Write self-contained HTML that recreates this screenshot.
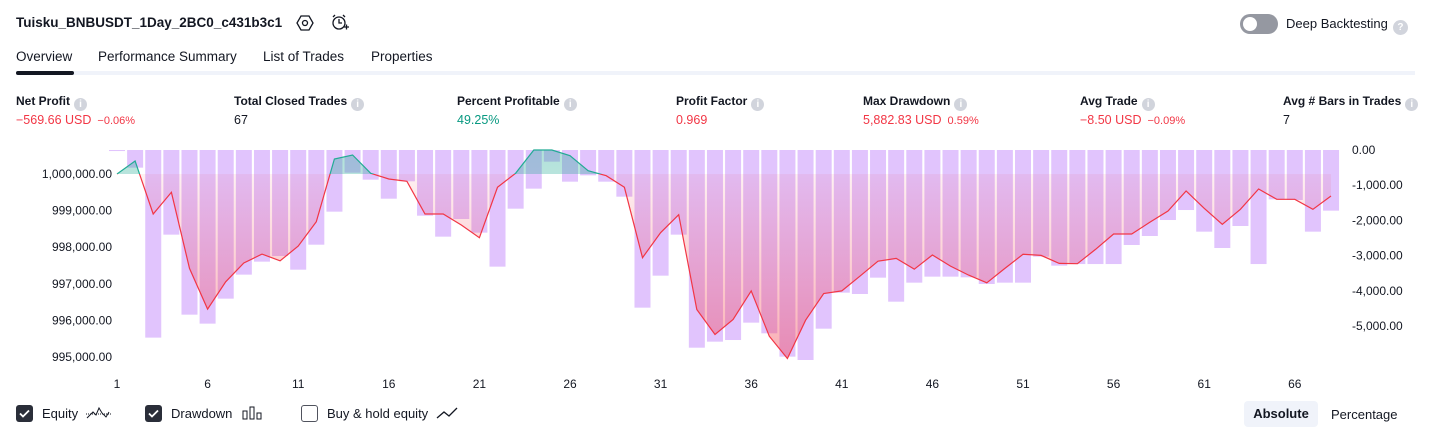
<!DOCTYPE html>
<html><head><meta charset="utf-8">
<style>
body{margin:0;width:1431px;height:438px;background:#fff;font-family:"Liberation Sans","DejaVu Sans",sans-serif;color:#131722;position:relative;overflow:hidden}
.abs{position:absolute;white-space:nowrap}
.title{left:16px;top:15px;font-size:13.5px;font-weight:bold}
.tab{top:49px;font-size:13.5px}
.lbl{top:94px;font-size:12px;font-weight:bold;color:#131722}
.val{top:113px;font-size:12.5px}
.info{display:inline-block;width:13px;height:13px;border-radius:50%;background:#d1d4dc;color:#fff;font-size:10px;text-align:center;line-height:13px;vertical-align:-2px;margin-left:4px;font-weight:bold}
.red{color:#f23645}.grn{color:#089981}.sm{font-size:11px;margin-left:6px}
.cb{display:inline-block;width:17px;height:17px;border-radius:3px;vertical-align:-4px;margin-right:9px;box-sizing:border-box}
.leg{top:405px;font-size:13px}
</style></head><body>
<div class="abs title">Tuisku_BNBUSDT_1Day_2BC0_c431b3c1</div>
<svg class="abs" style="left:296px;top:14px" width="18" height="18"><polygon points="5,2 13,2 17,9 13,16 5,16 1,9" fill="none" stroke="#131722" stroke-width="1.3"/><circle cx="9" cy="9" r="2.5" fill="none" stroke="#131722" stroke-width="1.3"/></svg>
<svg class="abs" style="left:330px;top:13px" width="20" height="20"><circle cx="9" cy="10" r="6" fill="none" stroke="#131722" stroke-width="1.3"/><path d="M9 6v4h3M3 4l2-2M15 4l-2-2M14 14h5M16.5 11.5v5" fill="none" stroke="#131722" stroke-width="1.3"/></svg>
<div class="abs" style="left:1240px;top:14px;width:38px;height:20px;border-radius:10px;background:#9598a1"><div style="position:absolute;left:3px;top:3px;width:14px;height:14px;border-radius:50%;background:#fff"></div></div>
<div class="abs" style="left:1286px;top:16px;font-size:13px">Deep Backtesting<span class="info" style="margin-left:5px;width:15px;height:15px;line-height:15px">?</span></div>

<div class="abs tab" style="left:16px">Overview</div>
<div class="abs tab" style="left:98px">Performance Summary</div>
<div class="abs tab" style="left:263px">List of Trades</div>
<div class="abs tab" style="left:371px">Properties</div>
<div class="abs" style="left:16px;top:71px;width:1399px;height:4px;background:#f0f3fa"></div>
<div class="abs" style="left:16px;top:71px;width:58px;height:4px;border-radius:2px;background:#131722"></div>

<div class="abs lbl" style="left:16px">Net Profit<span class="info">i</span></div>
<div class="abs val red" style="left:16px">−569.66 USD<span class="sm">−0.06%</span></div>
<div class="abs lbl" style="left:234px">Total Closed Trades<span class="info">i</span></div>
<div class="abs val" style="left:234px">67</div>
<div class="abs lbl" style="left:457px">Percent Profitable<span class="info">i</span></div>
<div class="abs val grn" style="left:457px">49.25%</div>
<div class="abs lbl" style="left:676px">Profit Factor<span class="info">i</span></div>
<div class="abs val red" style="left:676px">0.969</div>
<div class="abs lbl" style="left:863px">Max Drawdown<span class="info">i</span></div>
<div class="abs val red" style="left:863px">5,882.83 USD<span class="sm">0.59%</span></div>
<div class="abs lbl" style="left:1080px">Avg Trade<span class="info">i</span></div>
<div class="abs val red" style="left:1080px">−8.50 USD<span class="sm">−0.09%</span></div>
<div class="abs lbl" style="left:1283px">Avg # Bars in Trades<span class="info">i</span></div>
<div class="abs val" style="left:1283px">7</div>

<svg id="chart" class="abs" style="left:0;top:0" width="1431" height="400"></svg>

<div class="abs leg" style="left:16px"><span class="cb" style="background:#2a2e39"><svg width="17" height="17"><path d="M4 8.5l3 3 6-6" stroke="#fff" stroke-width="1.8" fill="none"/></svg></span>Equity <svg width="26" height="16" style="vertical-align:-3px;margin-left:4px"><path d="M1 13l6-6 3 3 3-7 3 5 4 4 3-5" stroke="#131722" fill="none"/><line x1="0" y1="9" x2="26" y2="9" stroke="#131722" stroke-dasharray="1,1"/></svg></div>
<div class="abs leg" style="left:145px"><span class="cb" style="background:#2a2e39"><svg width="17" height="17"><path d="M4 8.5l3 3 6-6" stroke="#fff" stroke-width="1.8" fill="none"/></svg></span>Drawdown <svg width="20" height="16" style="vertical-align:-3px;margin-left:6px"><rect x="1" y="6" width="4" height="8" fill="none" stroke="#131722"/><rect x="8" y="2" width="4" height="12" fill="none" stroke="#131722"/><rect x="15" y="8" width="4" height="6" fill="none" stroke="#131722"/></svg></div>
<div class="abs leg" style="left:301px"><span class="cb" style="border:1.3px solid #50535e"></span>Buy &amp; hold equity <svg width="22" height="16" style="vertical-align:-3px;margin-left:4px"><path d="M1 13l7-6 5 4 8-8" stroke="#131722" fill="none" stroke-width="1.3"/></svg></div>
<div class="abs" style="left:1244px;top:401px;width:74px;height:26px;border-radius:4px;background:#f0f3fa;font-size:13px;font-weight:bold;text-align:center;line-height:26px">Absolute</div>
<div class="abs" style="left:1331px;top:407px;font-size:13px">Percentage</div>

<script>
const tradeNums=[];for(let i=1;i<=68;i++)tradeNums.push(i);
const xTickLabels=[1,6,11,16,21,26,31,36,41,46,51,56,61,66];
const equity=[1000000,1000355,998907,999500,997423,996310,997057,997570,997814,997630,998030,998697,1000410,1000519,1000019,999863,999800,998907,998907,998607,998260,999636,1000019,1000656,1000656,1000500,1000090,999954,999636,997713,998396,998888,996300,995617,996027,996809,995571,994962,996008,996738,996809,997210,997620,997694,997400,997787,997486,997240,997030,997423,997806,997778,997560,997550,997940,998361,998361,998680,998990,999535,999063,998626,999036,999590,999308,999308,999035,999400];
const drawdown=[-30,-502,-5330,-2405,-4678,-4933,-4223,-3541,-3172,-3011,-3400,-2690,-1752,-644,-843,-1383,-890,-1866,-2462,-1960,-2348,-3314,-1667,-1098,-331,-900,-720,-900,-1326,-4479,-3570,-2405,-5616,-5445,-5398,-4905,-5208,-5871,-5966,-5076,-4053,-4091,-3627,-4309,-3769,-3598,-3598,-3617,-3807,-3769,-3769,-3030,-3286,-3240,-3240,-3240,-2699,-2443,-1989,-1705,-2320,-2784,-2159,-3240,-1402,-1420,-2320,-1723];
const leftTicks=[1000000,999000,998000,997000,996000,995000];
const rightTicks=[0,-1000,-2000,-3000,-4000,-5000];
const baseEquity=1000000;

const svg=document.getElementById('chart');const NS='http://www.w3.org/2000/svg';
const X=i=>117+(i-1)*18.12;
const YL=v=>174-(v-1000000)*0.03662;
const YR=v=>150-v*0.0352;
function mk(t,a,p){const e=document.createElementNS(NS,t);for(const k in a)e.setAttribute(k,a[k]);(p||svg).appendChild(e);return e;}
const fmt=v=>{const s=Math.abs(v).toLocaleString('en-US',{minimumFractionDigits:2,maximumFractionDigits:2});return (v<0?'-':'')+s;};
const defs=mk('defs',{});
const g1=mk('linearGradient',{id:'rg',x1:0,y1:0,x2:0,y2:1},defs);
mk('stop',{offset:'0','stop-color':'#f23645','stop-opacity':'0.03'},g1);mk('stop',{offset:'1','stop-color':'#f23645','stop-opacity':'0.4'},g1);
const g2=mk('linearGradient',{id:'gg',x1:0,y1:0,x2:0,y2:1},defs);
mk('stop',{offset:'0','stop-color':'#22ab94','stop-opacity':'0.35'},g2);mk('stop',{offset:'1','stop-color':'#22ab94','stop-opacity':'0.08'},g2);
const by=YL(baseEquity);
const c1=mk('clipPath',{id:'below'},defs);mk('rect',{x:0,y:by,width:1431,height:400},c1);
const c2=mk('clipPath',{id:'above'},defs);mk('rect',{x:0,y:0,width:1431,height:by},c2);

drawdown.forEach((d,i)=>{const x=X(tradeNums[i]);const b=mk('rect',{x:x-8,y:YR(0),width:16,height:Math.max(1,YR(d)-YR(0)),fill:'#e1c4fd'});

});
let pts=equity.map((v,i)=>X(tradeNums[i]).toFixed(1)+','+YL(v).toFixed(1)).join(' ');
const area='M'+X(1)+','+by+' L'+pts+' L'+X(68)+','+by+'Z';
const a1=mk('path',{d:area,fill:'url(#rg)','clip-path':'url(#below)'});


const a2=mk('path',{d:area,fill:'url(#gg)','clip-path':'url(#above)'});


const l1=mk('polyline',{points:pts,fill:'none',stroke:'#f23645','stroke-width':1.2,'clip-path':'url(#below)'});


const l2=mk('polyline',{points:pts,fill:'none',stroke:'#22ab94','stroke-width':1.2,'clip-path':'url(#above)'});


leftTicks.forEach(v=>{const t=mk('text',{x:112,y:YL(v)+4,'text-anchor':'end','font-size':12,fill:'#131722'});t.textContent=fmt(v);

});
rightTicks.forEach(v=>{const t=mk('text',{x:1352,y:YR(v)+4,'font-size':12,fill:'#131722'});t.textContent=v===0?'0.00':fmt(v);

});
xTickLabels.forEach(v=>{const t=mk('text',{x:X(v),y:388,'text-anchor':'middle','font-size':12,fill:'#131722'});t.textContent=v;

});
</script>
</body></html>
